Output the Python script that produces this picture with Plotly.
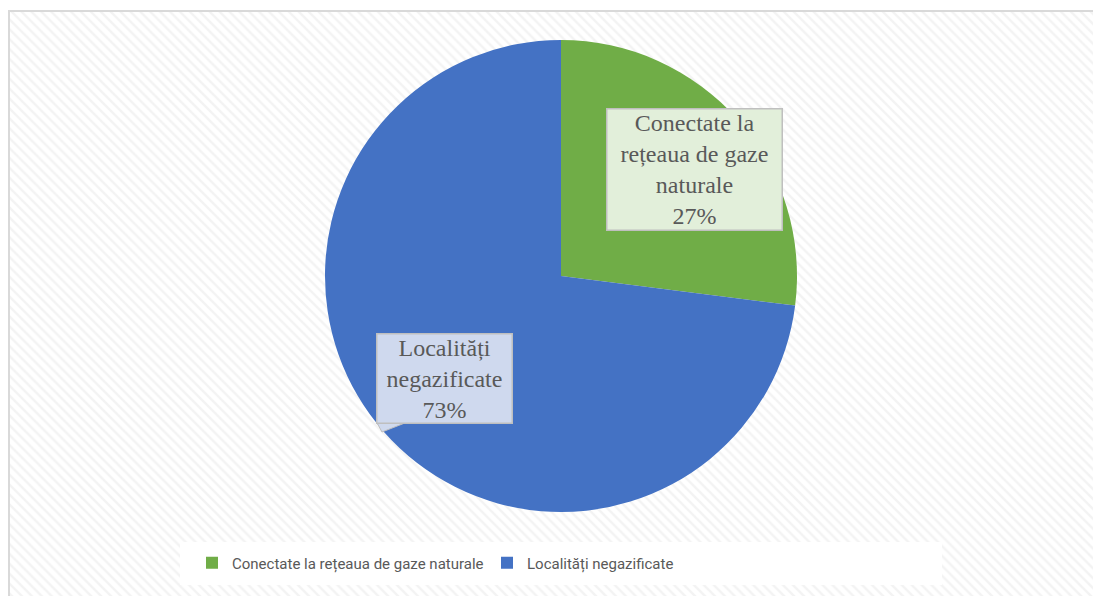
import plotly.graph_objects as go

labels = ["Conectate la rețeaua de gaze naturale", "Localități negazificate"]
values = [27, 73]
colors = ["#70AD47", "#4472C4"]
box_text = ["Conectate la<br>rețeaua de gaze<br>naturale<br>27%", "Localități<br>negazificate<br>73%"]
box_fill = ["#E2EFDA", "#CFD9EE"]

# the page puts the figure 8px in from the top-left corner
OX, OY = 8, 8
W, H = 1101 - OX, 596 - OY


def px(x):
    return (x - OX) / W


def py(y):
    return 1 - (y - OY) / H


fig = go.Figure()

# hatched chart-area background
fig.add_trace(go.Scatter(
    x=[px(9), 1, 1, px(9), px(9)], y=[py(11), py(11), 0, 0, py(11)],
    mode="lines", line=dict(width=0), fill="toself", fillcolor="white",
    fillpattern=dict(shape="\\", size=7, solidity=0.35, fgcolor="#E8E8E8", bgcolor="white"),
    hoverinfo="skip", showlegend=False,
))

fig.add_trace(go.Pie(
    labels=labels, values=values, sort=False, direction="clockwise", rotation=0,
    marker=dict(colors=colors, line=dict(width=0)),
    textinfo="none", hoverinfo="label+percent",
    domain=dict(x=[px(325), px(797)], y=[py(512), py(40)]),
))

# chart border (left / top)
fig.add_shape(type="line", xref="paper", yref="paper", x0=px(9), x1=px(9), y0=0, y1=py(10),
              line=dict(color="#D9D9D9", width=2))
fig.add_shape(type="line", xref="paper", yref="paper", x0=px(8), x1=1, y0=py(11), y1=py(11),
              line=dict(color="#D9D9D9", width=2))

# legend panel
fig.add_shape(type="rect", xref="paper", yref="paper", x0=px(180), x1=px(942), y0=py(585), y1=py(542),
              fillcolor="white", line=dict(width=0), layer="above")

# callout pointer for the blue label
fig.add_shape(type="path", xref="paper", yref="paper", layer="above",
              path="M %f,%f L %f,%f L %f,%f Z" % (px(376), py(421), px(382), py(432), px(410), py(421)),
              fillcolor=box_fill[1], line=dict(color="#BFBFBF", width=1))

centers = [(694, 169), (444, 378)]
widths = [174, 134]
for t, f, (cx, cy), bw in zip(box_text, box_fill, centers, widths):
    fig.add_annotation(
        x=px(cx), y=py(cy), xref="paper", yref="paper", showarrow=False,
        xanchor="center", yanchor="middle",
        text=t, align="center", width=bw, valign="middle",
        font=dict(family="Liberation Serif, DejaVu Serif, serif", size=24, color="#595959"),
        bgcolor=f, bordercolor="#BFBFBF", borderwidth=1.5, borderpad=0,
    )

fig.update_layout(
    width=W, height=H,
    margin=dict(l=0, r=0, t=0, b=0),
    paper_bgcolor="white", plot_bgcolor="white",
    xaxis=dict(range=[0, 1], visible=False, fixedrange=True),
    yaxis=dict(range=[0, 1], visible=False, fixedrange=True),
    showlegend=True,
    legend=dict(orientation="h", x=px(192), xanchor="left", y=py(563), yanchor="middle",
                bgcolor="rgba(0,0,0,0)", itemwidth=30, entrywidth=250, entrywidthmode="pixels",
                font=dict(family="Roboto, Noto Sans, sans-serif", size=15, color="#595959")),
)

fig.write_html("out.html")
